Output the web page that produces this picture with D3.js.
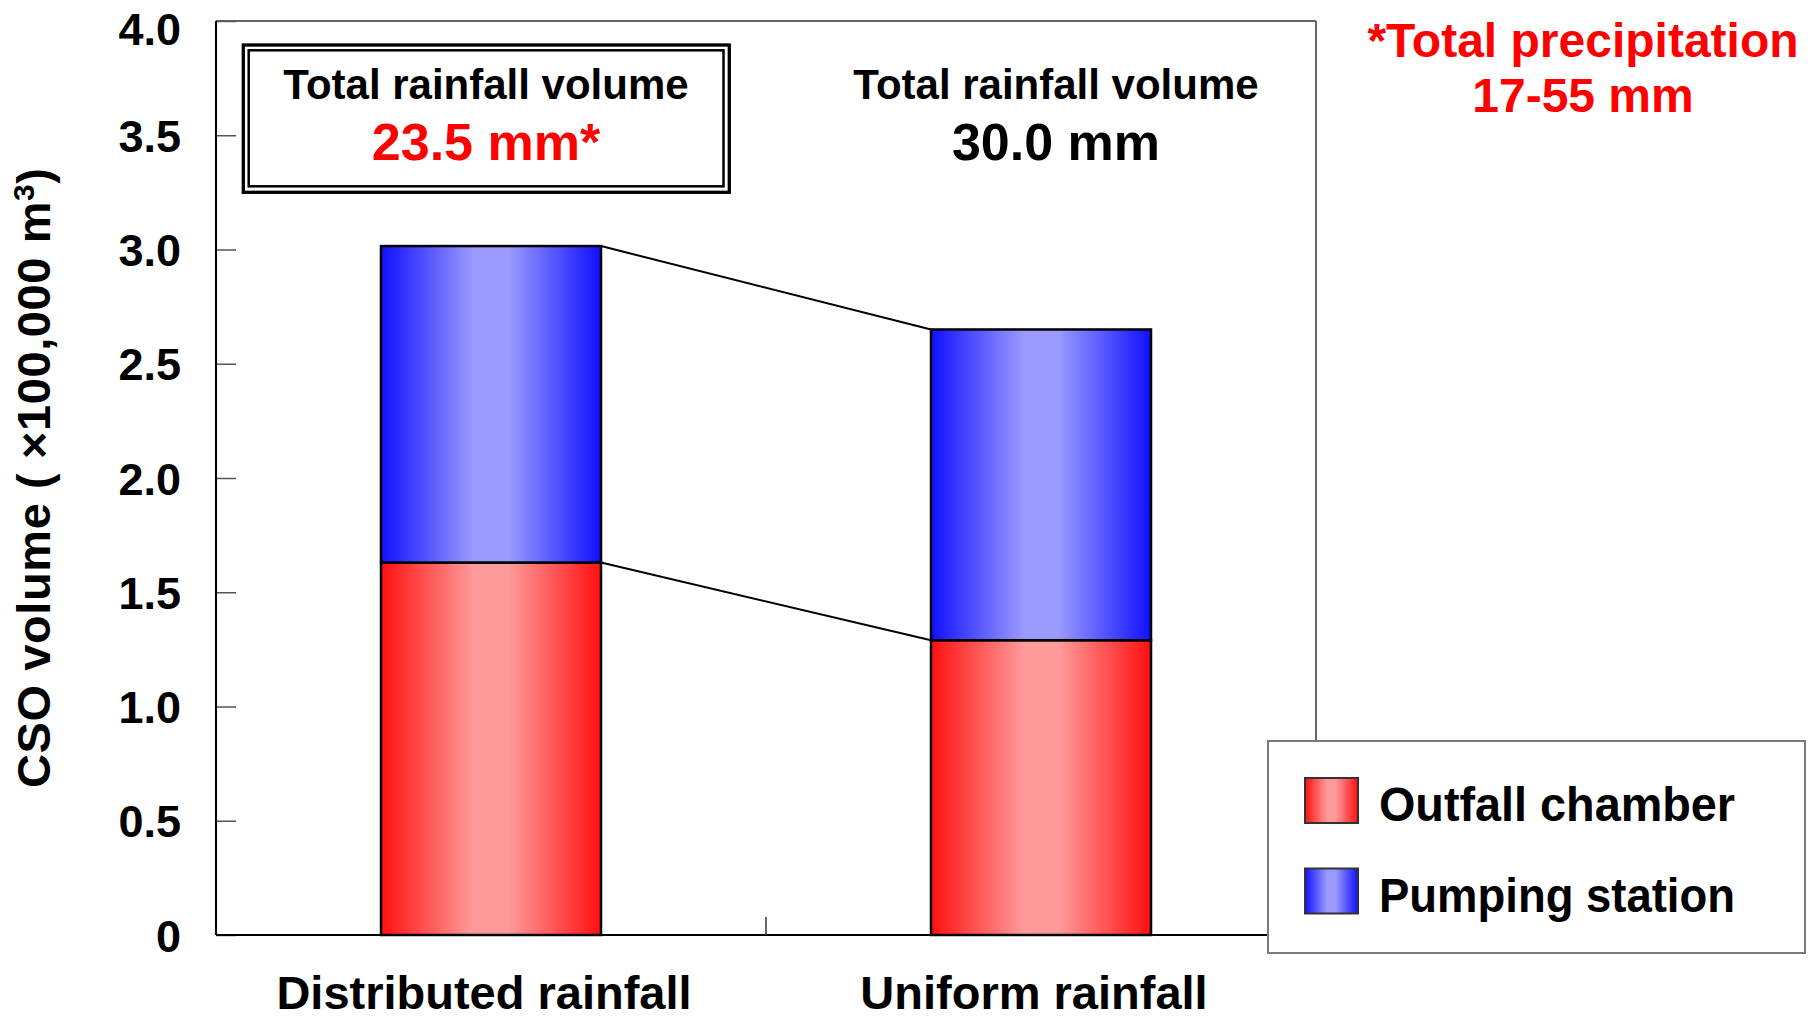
<!DOCTYPE html>
<html>
<head>
<meta charset="utf-8">
<script src="https://cdn.jsdelivr.net/npm/d3@7"></script>
<style>
  html, body { margin: 0; padding: 0; background: #fff; }
  svg { display: block; }
  text { font-family: "Liberation Sans", Arial, sans-serif; font-weight: bold; }
</style>
</head>
<body>
<svg id="chart" width="1808" height="1021"></svg>
<script>
// CSO volume per rainfall scenario (x 100,000 m3)
const categories = ["Distributed rainfall", "Uniform rainfall"];
const outfallChamber = [1.63, 1.29];
const pumpingStation = [1.385, 1.36];
const rainfallVolumes = ["23.5 mm*", "30.0 mm"];
const yTickValues = [0, 0.5, 1.0, 1.5, 2.0, 2.5, 3.0, 3.5, 4.0];
const yTickLabels = ["0", "0.5", "1.0", "1.5", "2.0", "2.5", "3.0", "3.5", "4.0"];
const seriesNames = ["Outfall chamber", "Pumping station"];

const svg = d3.select("#chart");
const plot = { left: 216, right: 1316, top: 21, bottom: 935 };

const x = d3.scaleBand().domain(categories).range([plot.left, plot.right]).paddingInner(0).paddingOuter(0);
const y = d3.scaleLinear().domain([0, 4]).range([plot.bottom, plot.top]);
const barW = x.bandwidth() * 0.4;
const barX = c => x(c) + (x.bandwidth() - barW) / 2;

// Horizontal cylinder-like shading for the two series
const defs = svg.append("defs");
function shade(id, edge, mid) {
  const g = defs.append("linearGradient").attr("id", id)
    .attr("x1", "0%").attr("x2", "100%").attr("y1", "0%").attr("y2", "0%");
  g.append("stop").attr("offset", "0%").attr("stop-color", edge);
  g.append("stop").attr("offset", "42%").attr("stop-color", mid);
  g.append("stop").attr("offset", "58%").attr("stop-color", mid);
  g.append("stop").attr("offset", "100%").attr("stop-color", edge);
}
shade("gradRed", "#ff1010", "#ff9a9a");
shade("gradBlue", "#1010ff", "#9a9aff");
const fills = ["url(#gradRed)", "url(#gradBlue)"];

// Plot frame
svg.append("line").attr("x1", plot.left).attr("x2", plot.right).attr("y1", plot.top).attr("y2", plot.top)
  .attr("stroke", "#333").attr("stroke-width", 1.5);
svg.append("line").attr("x1", plot.right).attr("x2", plot.right).attr("y1", plot.top).attr("y2", plot.bottom)
  .attr("stroke", "#333").attr("stroke-width", 1.5);

// Y axis with inward ticks
const yAxis = d3.axisLeft(y).tickValues(yTickValues)
  .tickFormat((d, i) => yTickLabels[i]).tickSize(-20).tickSizeOuter(0).tickPadding(35);
const yg = svg.append("g").attr("transform", `translate(${plot.left},0)`).call(yAxis);
yg.select(".domain").remove();
yg.selectAll(".tick line").attr("stroke", "#555").attr("stroke-width", 1.5);
yg.selectAll(".tick text").attr("font-size", 45).attr("fill", "#000")
  .attr("font-family", "'Liberation Sans', Arial, sans-serif").attr("font-weight", "bold")
  .attr("dy", d => d === 4 ? "0.52em" : "0.36em");
svg.append("line").attr("x1", plot.left).attr("x2", plot.left).attr("y1", plot.top).attr("y2", plot.bottom)
  .attr("stroke", "#000").attr("stroke-width", 2);

// X axis baseline, band separator tick and category labels
svg.append("line").attr("x1", plot.left).attr("x2", plot.right).attr("y1", plot.bottom).attr("y2", plot.bottom)
  .attr("stroke", "#000").attr("stroke-width", 2);
svg.selectAll(".xsep").data(categories.slice(1)).enter().append("line")
  .attr("x1", d => x(d)).attr("x2", d => x(d)).attr("y1", plot.bottom).attr("y2", plot.bottom - 18)
  .attr("stroke", "#333").attr("stroke-width", 1.5);
svg.selectAll(".xlab").data(categories).enter().append("text")
  .attr("x", d => x(d) + x.bandwidth() / 2 - 7).attr("y", 1009)
  .attr("text-anchor", "middle").attr("font-size", 47).text(d => d);

// Connector lines between the stacks
const totals = categories.map((c, i) => outfallChamber[i] + pumpingStation[i]);
[outfallChamber, totals].forEach(vals => {
  svg.append("line")
    .attr("x1", barX(categories[0]) + barW).attr("y1", y(vals[0]))
    .attr("x2", barX(categories[1])).attr("y2", y(vals[1]))
    .attr("stroke", "#000").attr("stroke-width", 2);
});

// Stacked bars
const stacks = [outfallChamber, pumpingStation];
categories.forEach((c, i) => {
  let base = 0;
  stacks.forEach((s, k) => {
    const v = s[i];
    svg.append("rect")
      .attr("x", barX(c)).attr("width", barW)
      .attr("y", y(base + v)).attr("height", y(base) - y(base + v))
      .attr("fill", fills[k]).attr("stroke", "#000").attr("stroke-width", 2.5);
    base += v;
  });
});

// Rainfall volume annotations
const noteX = [486, 1056];
svg.append("rect").attr("x", 243.3).attr("y", 45).attr("width", 486).attr("height", 147.3)
  .attr("fill", "#fff").attr("stroke", "#000").attr("stroke-width", 3.3);
svg.append("rect").attr("x", 248.7).attr("y", 50.3).attr("width", 474.8).attr("height", 136)
  .attr("fill", "none").attr("stroke", "#000").attr("stroke-width", 2.5);
categories.forEach((c, i) => {
  svg.append("text").attr("x", noteX[i]).attr("y", 99).attr("text-anchor", "middle")
    .attr("font-size", 42).text("Total rainfall volume");
  svg.append("text").attr("x", noteX[i]).attr("y", 160).attr("text-anchor", "middle")
    .attr("font-size", 52).attr("fill", i === 0 ? "#ff0000" : "#000").text(rainfallVolumes[i]);
});

// Precipitation range note
svg.append("text").attr("x", 1583).attr("y", 57).attr("text-anchor", "middle")
  .attr("font-size", 48).attr("fill", "#ff0000").text("*Total precipitation");
svg.append("text").attr("x", 1583).attr("y", 112).attr("text-anchor", "middle")
  .attr("font-size", 48).attr("fill", "#ff0000").text("17-55 mm");

// Y axis title
const yt = svg.append("text").attr("transform", "translate(50,478) rotate(-90)")
  .attr("text-anchor", "middle").attr("font-size", 47).attr("textLength", 620);
yt.append("tspan").text("CSO volume ( \u00d7100,000 m");
yt.append("tspan").attr("baseline-shift", "super").attr("font-size", 30).text("3");
yt.append("tspan").text(")");

// Legend
const lg = svg.append("g");
lg.append("rect").attr("x", 1268).attr("y", 741).attr("width", 537).attr("height", 212)
  .attr("fill", "#fff").attr("stroke", "#7a7a7a").attr("stroke-width", 2);
seriesNames.forEach((name, k) => {
  const top = 778 + k * 90.5;
  lg.append("rect").attr("x", 1305).attr("y", top).attr("width", 53).attr("height", 45)
    .attr("fill", fills[k]).attr("stroke", "#333").attr("stroke-width", 2);
  lg.append("text").attr("x", 1379).attr("y", top + 43)
    .attr("font-family", "'Noto Sans CJK JP', 'Noto Sans', sans-serif").attr("font-weight", "bold")
    .attr("font-size", 48).attr("textLength", 356).attr("lengthAdjust", "spacingAndGlyphs").text(name);
});
</script>
</body>
</html>
